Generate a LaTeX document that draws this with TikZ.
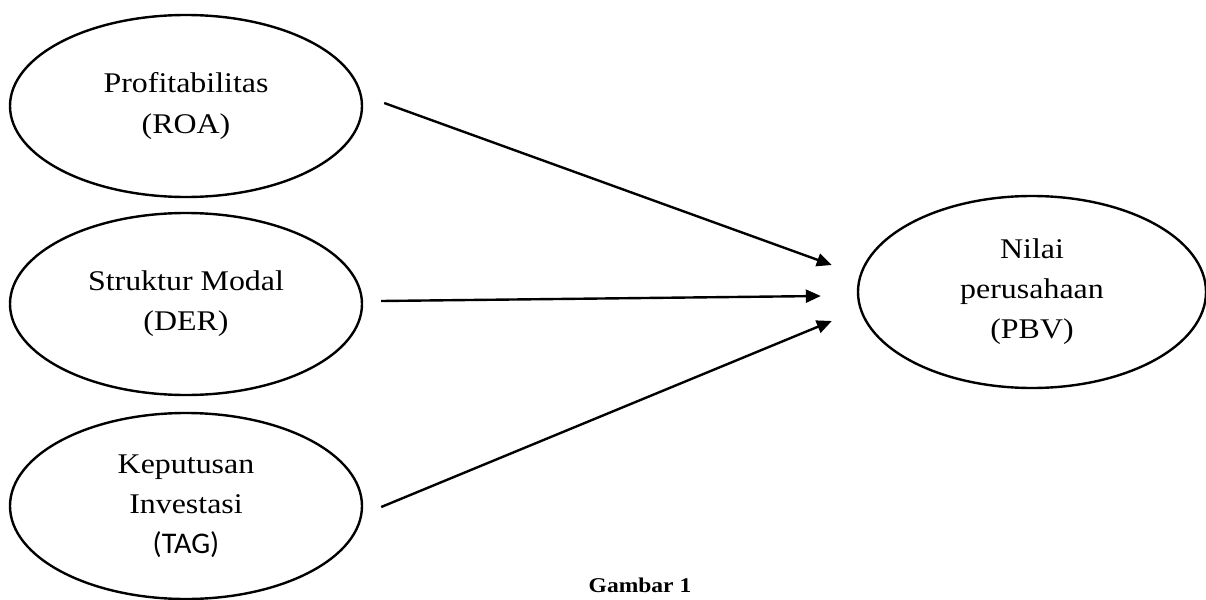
\documentclass[tikz,border=0pt]{standalone}
\usepackage{fontspec}
\usetikzlibrary{arrows.meta,calc,shapes.geometric}
\newfontfamily\palfont{Liberation Serif}[FakeStretch=1.12]
\newfontfamily\tagfont{Carlito}

\begin{document}
\begin{tikzpicture}
  [x=1pt,y=-1pt,
   varnode/.style={ellipse,draw,line width=2.4pt,inner sep=0pt,align=center,
     minimum width=352pt,minimum height=182pt,
     font=\palfont\fontsize{28.5}{40}\selectfont},
   arr/.style={line width=2.4pt,-{Triangle[length=15pt,width=13pt]}}]
  \useasboundingbox (0,0) rectangle (1206,599);

  \node[varnode] (roa) at (186,106) {Profitabilitas\\(ROA)};
  \node[varnode] (der) at (186,304) {Struktur Modal\\(DER)};
  \node[varnode,minimum height=186pt] (tag) at (186,506) {Keputusan\\Investasi\\{\tagfont\fontsize{30}{38}\selectfont (TAG)}};
  \node[varnode,minimum width=348pt,minimum height=192pt] (pbv) at (1032,292) {Nilai\\perusahaan\\(PBV)};
  \node[anchor=base,font=\palfont\bfseries\fontsize{21}{26}\selectfont] (cap) at (640,592) {Gambar 1};

  \draw[arr] ($(roa.east)+(21,-3)$) -- ($(pbv.west)+(-25,-27)$);
  \draw[arr] ($(der.east)+(18,-3)$) -- ($(pbv.west)+(-36,4)$);
  \draw[arr] ($(tag.east)+(18,1)$) -- ($(pbv.west)+(-25,29)$);

\end{tikzpicture}
\end{document}
